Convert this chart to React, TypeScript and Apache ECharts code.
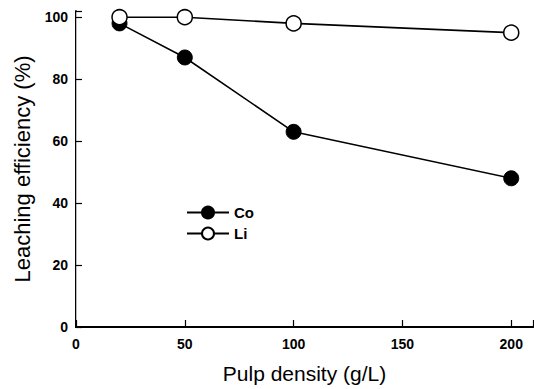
import React, { useEffect, useRef } from "react";
import * as echarts from "echarts";

const pulpDensity = [20, 50, 100, 200];
const coEfficiency = [98, 87, 63, 48];
const liEfficiency = [100, 100, 98, 95];
const xTicks = [0, 50, 100, 150, 200];
const yTicks = [0, 20, 40, 60, 80, 100];

const FONT = "Liberation Sans, Arial, sans-serif";

export default function App() {
  const ref = useRef<HTMLDivElement>(null);
  useEffect(() => {
    const chart = echarts.init(ref.current!, null, { renderer: "svg" });
    const coData = pulpDensity.map((x, i) => [x, coEfficiency[i]]);
    const liData = pulpDensity.map((x, i) => [x, liEfficiency[i]]);
    chart.setOption({
      animation: false,
      backgroundColor: "#fff",
      textStyle: { fontFamily: FONT, color: "#000" },
      grid: { left: 76, top: 11, right: 1, bottom: 59 },
      legend: {
        orient: "vertical",
        left: 181,
        top: 200,
        itemWidth: 42,
        itemHeight: 15,
        itemGap: 6,
        textStyle: { fontFamily: FONT, fontSize: 15, color: "#000", fontWeight: "bold" },
        data: ["Co", "Li"],
      },
      xAxis: [
        {
          type: "value",
          min: 0,
          max: 210,
          interval: 50,
          axisLine: { show: true, lineStyle: { color: "#000", width: 2 } },
          axisTick: { show: true, inside: true, length: 7, lineStyle: { color: "#000", width: 1.2 } },
          axisLabel: {
            color: "#000",
            fontSize: 14,
            fontWeight: "bold",
            fontFamily: FONT,
            margin: 10,
            customValues: xTicks,
            formatter: (v: number) => (xTicks.includes(v) ? String(v) : ""),
          },
          splitLine: { show: false },
          name: "Pulp density (g/L)",
          nameLocation: "middle",
          nameGap: 36,
          nameTextStyle: { fontSize: 21, fontFamily: FONT, color: "#000" },
        },
        {
          type: "value",
          position: "top",
          min: 0,
          max: 210,
          axisLine: { show: true, lineStyle: { color: "#000", width: 2 } },
          axisTick: { show: false },
          axisLabel: { show: false },
          splitLine: { show: false },
        },
      ],
      yAxis: [
        {
          type: "value",
          min: 0,
          max: 102,
          interval: 20,
          axisLine: { show: true, lineStyle: { color: "#000", width: 2 } },
          axisTick: { show: true, inside: true, length: 6, lineStyle: { color: "#000", width: 1.2 } },
          axisLabel: {
            color: "#000",
            fontSize: 14,
            fontWeight: "bold",
            fontFamily: FONT,
            margin: 8,
            customValues: yTicks,
            formatter: (v: number) => (yTicks.includes(v) ? String(v) : ""),
          },
          splitLine: { show: false },
          name: "Leaching efficiency (%)",
          nameLocation: "middle",
          nameGap: 42,
          nameTextStyle: { fontSize: 22, fontFamily: FONT, color: "#000" },
        },
        {
          type: "value",
          position: "right",
          min: 0,
          max: 102,
          axisLine: { show: true, lineStyle: { color: "#bbb", width: 1 } },
          axisTick: { show: false },
          axisLabel: { show: false },
          splitLine: { show: false },
        },
      ],
      series: [
        {
          name: "Co",
          type: "line",
          data: coData,
          symbol: "circle",
          symbolSize: 15,
          lineStyle: { color: "#000", width: 1.6 },
          itemStyle: { color: "#000", borderColor: "#000", borderWidth: 1 },
          z: 2,
        },
        {
          name: "Li",
          type: "line",
          data: liData,
          symbol: "circle",
          symbolSize: 15,
          lineStyle: { color: "#000", width: 1.6 },
          itemStyle: { color: "#fff", borderColor: "#000", borderWidth: 1.5 },
          z: 3,
        },
      ],
    });
    return () => chart.dispose();
  }, []);
  return <div ref={ref} style={{ width: 534, height: 389, position: "absolute", left: 0, top: 0 }} />;
}
